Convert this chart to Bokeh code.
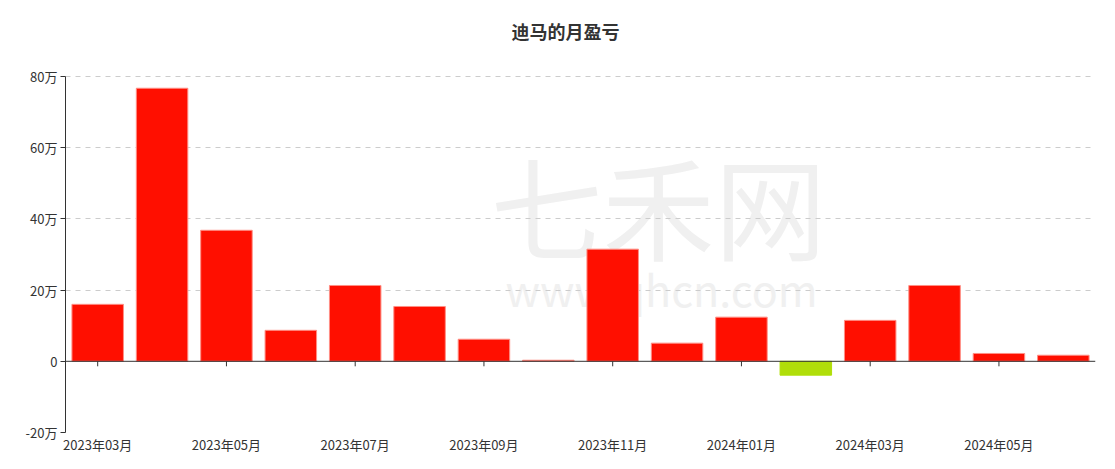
from bokeh.plotting import figure
from bokeh.models import ColumnDataSource, FixedTicker, Span, Label
from bokeh.embed import file_html
from bokeh.resources import INLINE

months = ["2023年03月", "2023年04月", "2023年05月", "2023年06月", "2023年07月", "2023年08月",
          "2023年09月", "2023年10月", "2023年11月", "2023年12月", "2024年01月", "2024年02月",
          "2024年03月", "2024年04月", "2024年05月", "2024年06月"]
profit_wan = [16.0, 76.7, 36.8, 8.7, 21.3, 15.4, 6.2, 0.3, 31.5, 5.1, 12.4, -3.9, 11.5, 21.3, 2.2, 1.7]
y_ticks = [-20, 0, 20, 40, 60, 80]
y_tick_labels = ["-20万", "0", "20万", "40万", "60万", "80万"]
title_text = "迪马的月盈亏"

FONT = "Noto Sans CJK SC"
POS, NEG = "#ff0f00", "#b0de09"

H, BOTTOM, TOP_PAD = 461, 29, 76
AX_MIN, AX_MAX = -20, 80
frame_h = H - BOTTOM
px_per_unit = (frame_h - TOP_PAD) / (AX_MAX - AX_MIN)
y_end = AX_MIN + frame_h / px_per_unit  # headroom above 80 for the title

idx = list(range(len(months)))
colors = [POS if v >= 0 else NEG for v in profit_wan]
lines = ["#ff8f85" if v >= 0 else NEG for v in profit_wan]
src = ColumnDataSource(dict(x=idx, top=profit_wan, color=colors, lc=lines))

p = figure(width=1099, height=H, output_backend="svg", toolbar_location=None,
           x_range=(-0.5, len(months) - 0.5), y_range=(AX_MIN, y_end),
           min_border_left=65, min_border_right=4, min_border_top=0, min_border_bottom=BOTTOM)
p.outline_line_color = None
p.background_fill_color = "white"

# title
p.add_layout(Label(x=500, y=frame_h - 30, x_units="screen", y_units="screen", text=title_text,
                   text_font=FONT, text_font_size="18px", text_font_style="bold",
                   text_color="#333333", text_align="center", text_baseline="middle"))

# watermark
p.add_layout(Label(x=425, y=148, x_units="screen", y_units="screen", text="七禾网",
                   text_font=FONT, text_font_size="112px", text_color="#f0f0f0", level="image"))
p.add_layout(Label(x=440, y=114, x_units="screen", y_units="screen", text="www.qhcn.com",
                   text_font=FONT, text_font_size="43px", text_color="#f0f0f0", level="image"))

p.vbar(x="x", top="top", bottom=0, width=0.8, source=src,
       fill_color="color", line_color="lc", line_width=1)

# zero axis line with ticks
p.add_layout(Span(location=0, dimension="width", line_color="#333333", line_width=1))
even = idx[::2]
tick_len = 5 / px_per_unit
p.segment(x0=even, x1=even, y0=[0] * len(even), y1=[-tick_len] * len(even),
          line_color="#333333", line_width=1)

# x axis: labels only
p.xaxis.ticker = FixedTicker(ticks=even)
p.xaxis.major_label_overrides = {i: months[i] for i in even}
p.xaxis.axis_line_color = None
p.xaxis.major_tick_line_color = None
p.xaxis.minor_tick_line_color = None
p.xaxis.major_tick_in = 0
p.xaxis.major_tick_out = 0
p.xaxis.major_label_standoff = 2
p.xaxis.major_label_text_font = FONT
p.xaxis.major_label_text_font_size = "13px"
p.xaxis.major_label_text_color = "#333333"

# y axis
p.yaxis.ticker = FixedTicker(ticks=y_ticks)
p.yaxis.bounds = (AX_MIN, AX_MAX)
p.yaxis.major_label_overrides = dict(zip(y_ticks, y_tick_labels))
p.yaxis.axis_line_color = "#333333"
p.yaxis.major_tick_line_color = "#333333"
p.yaxis.major_tick_in = 0
p.yaxis.major_tick_out = 5
p.yaxis.minor_tick_line_color = None
p.yaxis.major_label_standoff = 3
p.yaxis.major_label_text_font = FONT
p.yaxis.major_label_text_font_size = "13px"
p.yaxis.major_label_text_color = "#333333"

p.xgrid.grid_line_color = None
p.ygrid.ticker = FixedTicker(ticks=[-20, 20, 40, 60, 80])
p.ygrid.grid_line_color = "#cccccc"
p.ygrid.grid_line_dash = "5 5"

open("out.html", "w").write(file_html(p, INLINE))
